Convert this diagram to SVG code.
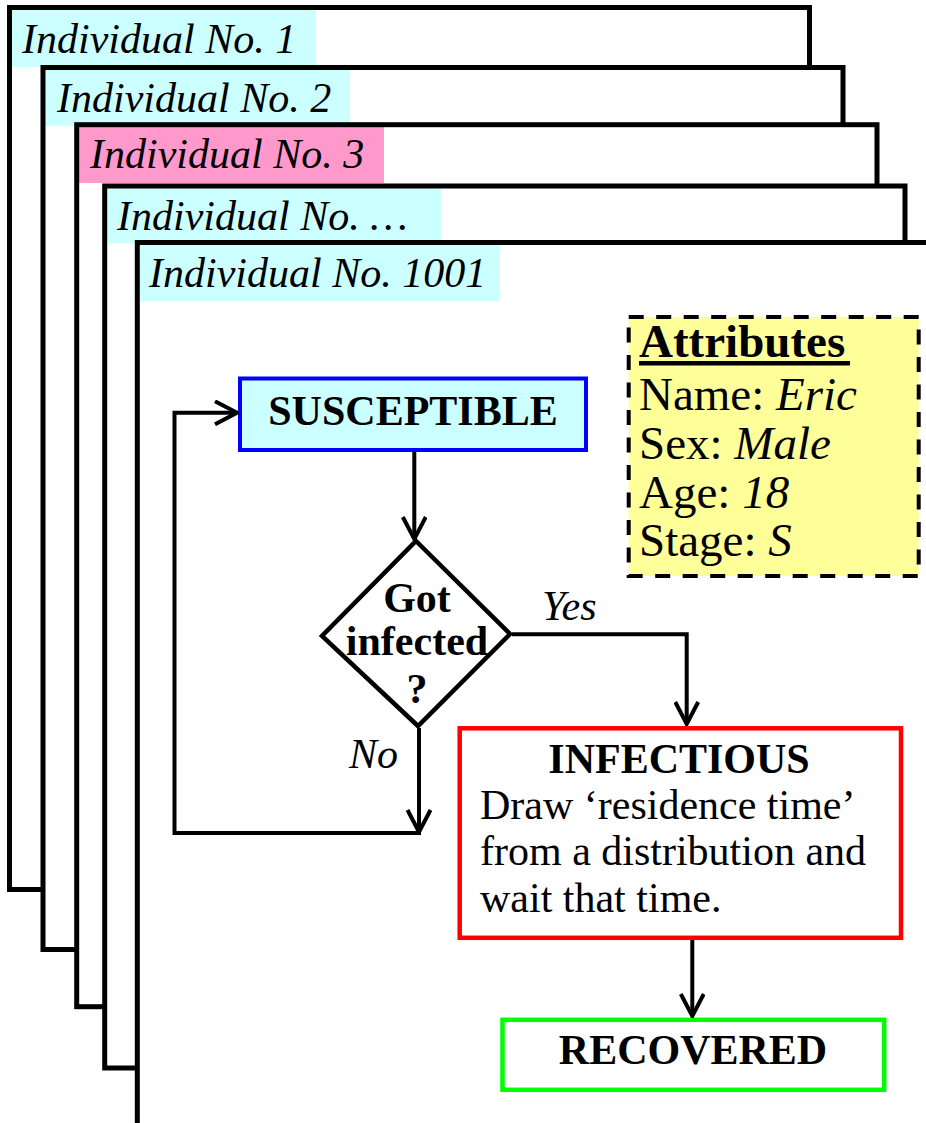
<svg xmlns="http://www.w3.org/2000/svg" width="926" height="1123" viewBox="0 0 926 1123">
  <style>
    .page { fill: #ffffff; stroke: none; }
    .frame { fill: none; stroke: #000000; stroke-width: 5; }
    .tab-cyan { fill: #ccffff; }
    .tab-pink { fill: #ff99cc; }
    .tab-text { font-family: "Liberation Serif", "Times New Roman", serif; font-style: italic; font-size: 42px; fill: #000000; }
    .bold { font-family: "Liberation Serif", "Times New Roman", serif; font-weight: bold; font-size: 42px; fill: #000000; }
    .body { font-family: "Liberation Serif", "Times New Roman", serif; font-size: 42px; fill: #000000; }
    .attr { font-family: "Liberation Serif", "Times New Roman", serif; font-size: 47px; fill: #000000; }
    .it { font-style: italic; }
    .link { fill: none; stroke: #000000; stroke-width: 4; }
  </style>
  <defs>
    <marker id="vhead" viewBox="0 0 26 26" refX="24" refY="13" markerWidth="26" markerHeight="26" markerUnits="userSpaceOnUse" orient="auto">
      <path d="M2,1.5 L24,13 L2,24.5" fill="none" stroke="#000000" stroke-width="4"/>
    </marker>
  </defs>

  <!-- stacked individual cards, back to front -->
  <g id="individual-1">
    <rect class="page" x="9.5" y="7.5" width="800" height="882"/>
    <rect class="tab-cyan" x="12" y="10" width="304" height="57"/>
    <text class="tab-text" x="22" y="53">Individual No. 1</text>
    <rect class="frame" x="9.5" y="7.5" width="800" height="882"/>
  </g>
  <g id="individual-2">
    <rect class="page" x="43" y="67.5" width="800" height="882"/>
    <rect class="tab-cyan" x="45.5" y="70" width="304.5" height="56"/>
    <text class="tab-text" x="57" y="111.5">Individual No. 2</text>
    <rect class="frame" x="43" y="67.5" width="800" height="882"/>
  </g>
  <g id="individual-3">
    <rect class="page" x="76.7" y="124.7" width="800.3" height="882"/>
    <rect class="tab-pink" x="79" y="127" width="305" height="56"/>
    <text class="tab-text" x="90" y="168">Individual No. 3</text>
    <rect class="frame" x="76.7" y="124.7" width="800.3" height="882"/>
  </g>
  <g id="individual-4">
    <rect class="page" x="104.7" y="186" width="800.3" height="882"/>
    <rect class="tab-cyan" x="107" y="188.5" width="334" height="55"/>
    <text class="tab-text" x="117" y="230">Individual No. …</text>
    <rect class="frame" x="104.7" y="186" width="800.3" height="882"/>
  </g>
  <g id="individual-1001">
    <rect class="page" x="137.3" y="242.5" width="900" height="900"/>
    <rect class="tab-cyan" x="140" y="245" width="360" height="56"/>
    <text class="tab-text" x="149" y="286.5">Individual No. 1001</text>
    <rect class="frame" x="137.3" y="242.5" width="900" height="900"/>
  </g>

  <!-- attribute card -->
  <g id="attributes">
    <rect x="628.7" y="317" width="290" height="259" fill="#ffff99" stroke="#000000" stroke-width="4" stroke-dasharray="15 12.5"/>
    <text class="attr" x="639" y="357" font-weight="bold">Attributes</text>
    <line x1="639" y1="363.3" x2="850" y2="363.3" stroke="#000000" stroke-width="4.5"/>
    <text class="attr" x="639" y="410">Name: <tspan class="it">Eric</tspan></text>
    <text class="attr" x="639" y="459">Sex: <tspan class="it">Male</tspan></text>
    <text class="attr" x="639" y="508">Age: <tspan class="it">18</tspan></text>
    <text class="attr" x="639" y="556">Stage: <tspan class="it">S</tspan></text>
  </g>

  <!-- state flow -->
  <g id="susceptible">
    <rect x="240" y="378.5" width="346" height="71.5" fill="#ccffff" stroke="#0000ff" stroke-width="4"/>
    <text class="bold" x="413" y="425" text-anchor="middle">SUSCEPTIBLE</text>
  </g>

  <g id="got-infected">
    <polygon points="416,541 510,634 418,726 322,636" fill="#ffffff" stroke="#000000" stroke-width="4.5" stroke-linejoin="miter"/>
    <text class="bold" x="417" y="612" text-anchor="middle">Got</text>
    <text class="bold" x="417" y="655" text-anchor="middle">infected</text>
    <text class="bold" x="417" y="703" text-anchor="middle">?</text>
  </g>

  <g id="infectious">
    <rect x="459.7" y="728.3" width="441.3" height="209.5" fill="#ffffff" stroke="#ff0000" stroke-width="4.5"/>
    <text class="bold" x="679" y="773" text-anchor="middle">INFECTIOUS</text>
    <text class="body" x="480" y="818.5">Draw ‘residence time’</text>
    <text class="body" x="480" y="865">from a distribution and</text>
    <text class="body" x="480" y="911.5">wait that time.</text>
  </g>

  <g id="recovered">
    <rect x="502.5" y="1019.8" width="381.7" height="70" fill="#ffffff" stroke="#00ff00" stroke-width="4.5"/>
    <text class="bold" x="693" y="1063.5" text-anchor="middle">RECOVERED</text>
  </g>

  <g id="connectors">
    <path class="link" d="M414.3,452 V539" marker-end="url(#vhead)"/>
    <path class="link" d="M512,634.3 H686.7 V724" marker-end="url(#vhead)"/>
    <path class="link" d="M419,728 V832" marker-end="url(#vhead)"/>
    <path class="link" d="M421,833 H174.5 V412.8 H237" marker-end="url(#vhead)"/>
    <path class="link" d="M692.3,940 V1016" marker-end="url(#vhead)"/>
    <text class="body it" x="542" y="620">Yes</text>
    <text class="body it" x="349" y="768">No</text>
  </g>
</svg>
